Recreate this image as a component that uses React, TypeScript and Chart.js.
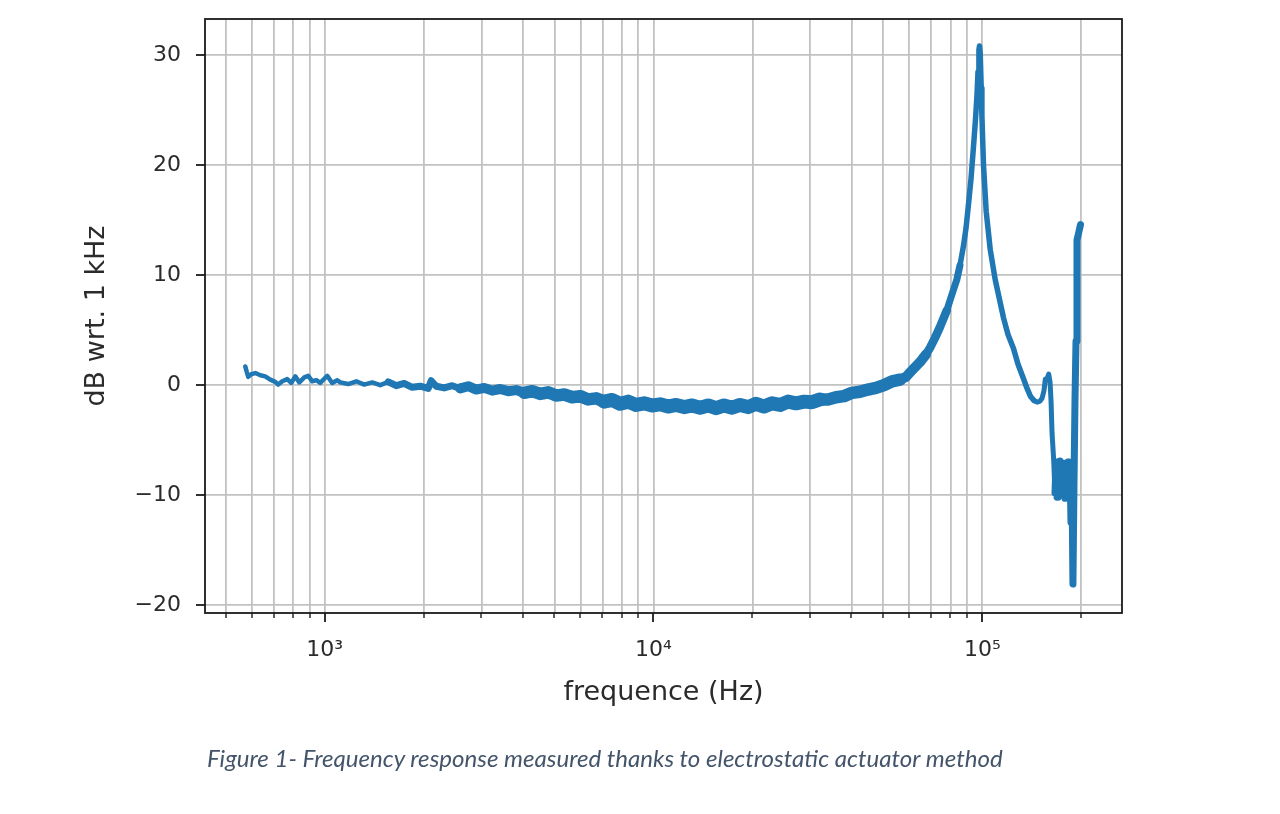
import React, { useEffect, useRef } from "react";
import { Chart, registerables } from "chart.js";

Chart.register(...registerables);

// ---- data ----
const freqHz: number[] = [
  574, 580, 586, 599, 616, 638, 660, 684, 708, 723, 744, 770, 792, 815, 838, 868, 892, 918, 944, 970,
  1019, 1055, 1093, 1116, 1180, 1249, 1320, 1396, 1477, 1562, 1652, 1747, 1848, 1954, 2066, 2110, 2185,
  2311, 2444, 2585, 2734, 2892, 3058, 3234, 3420, 3617, 3825, 4046, 4279, 4525, 4786, 5062, 5353, 5662,
  5988, 6333, 6697, 7084, 7491, 7923, 8379, 8861, 9370, 9909, 10481, 11085, 11722, 12398, 13110, 13867,
  14665, 15508, 16401, 17345, 18343, 19398, 20520, 21700, 22950, 24270, 25660, 27140, 28710, 30360,
  32110, 33960, 35910, 37980, 40180, 42490, 44930, 47520, 50250, 53140, 56210, 58620, 61580, 64660,
  67440, 69340, 71810, 74370, 77990, 80330, 83650, 85540, 87680, 89230, 90810, 92410, 94040, 95350,
  96300, 97030, 97650, 98060, 98540, 99240, 99720, 100830, 102760, 105680, 109440, 116050, 119700,
  124480, 128400, 133520, 136800, 139980, 143600, 146690, 149800, 151910, 154000, 155450, 157300,
  159200, 160660, 161780, 162930, 164820, 166340, 167490, 168700, 169870, 171050, 172280, 173480,
  174690, 175930, 177150, 178420, 179660, 180900, 182200, 183470, 184780, 186070, 187360, 188600,
  190000, 191300, 192700, 194000, 196100, 197500, 198900,
];

const gainDb: number[] = [
  1.7, 1.2, 0.75, 1.0, 1.1, 0.9, 0.8, 0.5, 0.3, 0.05, 0.35, 0.55, 0.2, 0.8, 0.25, 0.7, 0.85, 0.35, 0.45, 0.2,
  0.85, 0.2, 0.45, 0.25, 0.1, 0.35, 0.05, 0.25, 0.0, 0.3, -0.05, 0.15, -0.2, -0.1, -0.3, 0.4, -0.1,
  -0.25, -0.05, -0.3, -0.1, -0.4, -0.25, -0.5, -0.35, -0.55, -0.45, -0.7, -0.55, -0.8, -0.65, -0.95, -0.85, -1.1,
  -1.0, -1.3, -1.2, -1.5, -1.35, -1.7, -1.5, -1.8, -1.65, -1.85, -1.75, -1.95, -1.8, -2.0, -1.85, -2.05,
  -1.85, -2.1, -1.85, -2.05, -1.8, -2.0, -1.7, -1.95, -1.65, -1.8, -1.5, -1.65, -1.5, -1.55,
  -1.3, -1.3, -1.1, -1.0, -0.7, -0.6, -0.4, -0.25, 0.0, 0.35, 0.5, 0.75, 1.45, 2.1,
  2.8, 3.4, 4.3, 5.3, 6.8, 8.0, 9.6, 10.9, 12.7, 14.3, 16.5, 18.8, 21.75, 24.2,
  26.3, 28.5, 30.5, 30.85, 30.2, 27.0, 24.5, 20.0, 15.8, 12.35, 9.6, 6.1, 4.6,
  3.3, 1.9, 0.55, -0.3, -1.0, -1.4, -1.55, -1.45, -1.2, -0.5, 0.55, 0.6,
  1.0, 0.3, -1.4, -4.35, -6.8, -9.8, -7.0, -10.2, -7.4, -9.5, -6.9, -10.0,
  -7.3, -9.9, -7.1, -10.3, -7.5, -9.6, -7.0, -10.1, -7.6, -12.5, -9.0, -18.1,
  -9.0, -1.5, 4.0, 13.2, 13.8, 14.2, 14.6,
];

const xGridTicks: number[] = [
  500, 600, 700, 800, 900, 1000, 2000, 3000, 4000, 5000, 6000, 7000, 8000, 9000,
  10000, 20000, 30000, 40000, 50000, 60000, 70000, 80000, 90000, 100000, 200000,
];
const xMajorTicks: number[] = [1000, 10000, 100000];
const xMajorLabels: string[] = ["10³", "10⁴", "10⁵"];
const yTicks: number[] = [-20, -10, 0, 10, 20, 30];
const yTickLabels: string[] = ["−20", "−10", "0", "10", "20", "30"];

const xMin = 433;
const xMax = 265900;
const yMin = -20.73;
const yMax = 33.31;

const xTitle = "frequence (Hz)";
const yTitle = "dB wrt. 1 kHz";
const caption = "Figure 1- Frequency response measured thanks to electrostatic actuator method";

// ---- styles ----
const LINE_COLOR = "#1f77b4";
const GRID_COLOR = "#c2c2c2";
const TEXT_COLOR = "#2b2b2b";
const FONT = "'DejaVu Sans', sans-serif";

// stroke thickness of the noisy measurement band, by frequency
const bandWidth = (f: number): number => {
  if (f < 1500) return 4.5;
  if (f < 2500) return 7;
  if (f < 4000) return 10;
  if (f < 7000) return 12.5;
  if (f < 32000) return 14;
  if (f < 55000) return 12.5;
  if (f < 65000) return 10;
  if (f < 75000) return 8.5;
  if (f < 85000) return 7;
  if (f < 140000) return 5.5;
  if (f < 165000) return 5;
  return 7;
};

const frameAndTicks = {
  id: "frameAndTicks",
  afterDraw(chart: any) {
    const { ctx, chartArea: a, scales } = chart;
    ctx.save();
    ctx.strokeStyle = "#1a1a1a";
    for (const v of xGridTicks) {
      const px = Math.round(scales.x.getPixelForValue(v));
      const major = xMajorTicks.includes(v);
      ctx.lineWidth = major ? 1.8 : 1.4;
      ctx.beginPath();
      ctx.moveTo(px, a.bottom);
      ctx.lineTo(px, a.bottom + (major ? 9 : 5));
      ctx.stroke();
    }
    ctx.lineWidth = 1.8;
    for (const v of yTicks) {
      const py = Math.round(scales.y.getPixelForValue(v));
      ctx.beginPath();
      ctx.moveTo(a.left, py);
      ctx.lineTo(a.left - 9, py);
      ctx.stroke();
    }
    ctx.lineWidth = 1.8;
    ctx.strokeRect(a.left, a.top, a.right - a.left, a.bottom - a.top);
    ctx.restore();
  },
};

export default function App() {
  const canvasRef = useRef<HTMLCanvasElement | null>(null);
  const captionRef = useRef<HTMLDivElement | null>(null);

  useEffect(() => {
    const el = captionRef.current;
    if (el) {
      const w = el.getBoundingClientRect().width;
      if (w > 0) el.style.fontSize = (22 * 796) / w + "px";
    }
    if (!canvasRef.current) return;
    const points = freqHz.map((f, i) => ({ x: f, y: gainDb[i] }));
    const chart = new Chart(canvasRef.current, {
      type: "line",
      data: {
        datasets: [
          {
            data: points,
            borderColor: LINE_COLOR,
            backgroundColor: LINE_COLOR,
            borderWidth: 4.5,
            pointRadius: 0,
            tension: 0,
            fill: false,
            borderCapStyle: "round",
            borderJoinStyle: "round",
            segment: {
              borderWidth: (c: any) => bandWidth(c.p0.parsed.x),
            },
          } as any,
        ],
      },
      plugins: [frameAndTicks],
      options: {
        animation: false,
        responsive: false,
        devicePixelRatio: 1,
        layout: { padding: { left: 0, right: 158, top: 19, bottom: 101 } },
        plugins: { legend: { display: false }, tooltip: { enabled: false } },
        scales: {
          x: {
            type: "logarithmic",
            position: "bottom",
            min: xMin,
            max: xMax,
            bounds: "data",
            afterBuildTicks: (s: any) => {
              s.ticks = xGridTicks.map((v) => ({ value: v, major: xMajorTicks.includes(v) }));
            },
            afterFit: (s: any) => {
              s.height = 100;
              s.paddingLeft = 0;
              s.paddingRight = 0;
            },
            grid: { color: GRID_COLOR, lineWidth: 1.8, drawTicks: false },
            border: { display: false },
            ticks: {
              autoSkip: false,
              maxRotation: 0,
              minRotation: 0,
              padding: 24,
              color: TEXT_COLOR,
              font: { family: FONT, size: 22 },
              callback: (value: any) => {
                const i = xMajorTicks.indexOf(Number(value));
                return i >= 0 ? xMajorLabels[i] : "";
              },
            },
            title: {
              display: true,
              text: xTitle,
              color: TEXT_COLOR,
              font: { family: FONT, size: 27 },
              padding: { top: 0, bottom: 4 },
            },
          },
          y: {
            type: "linear",
            position: "left",
            min: yMin,
            max: yMax,
            bounds: "data",
            afterBuildTicks: (s: any) => {
              s.ticks = yTicks.map((v) => ({ value: v }));
            },
            afterFit: (s: any) => {
              s.width = 205;
              s.paddingTop = 0;
              s.paddingBottom = 0;
            },
            grid: { color: GRID_COLOR, lineWidth: 1.8, drawTicks: false },
            border: { display: false },
            ticks: {
              padding: 24,
              color: TEXT_COLOR,
              font: { family: FONT, size: 22 },
              callback: (value: any) => {
                const i = yTicks.indexOf(Number(value));
                return i >= 0 ? yTickLabels[i] : "";
              },
            },
            title: {
              display: true,
              text: yTitle,
              color: TEXT_COLOR,
              font: { family: FONT, size: 27 },
              padding: { top: 81, bottom: 0 },
            },
          },
        },
      },
    });
    return () => chart.destroy();
  }, []);

  return (
    <div style={{ position: "absolute", left: 0, top: 0, width: 1280, height: 814, background: "#fff" }}>
      <canvas ref={canvasRef} width={1280} height={814} style={{ width: 1280, height: 814, display: "block" }} />
      <div
        ref={captionRef}
        style={{
          position: "absolute",
          left: 207,
          top: 758,
          transform: "translateY(-50%)",
          fontFamily: "Lato, 'Open Sans', sans-serif",
          fontStyle: "italic",
          fontSize: 22,
          lineHeight: 1,
          color: "#44546a",
          whiteSpace: "nowrap",
        }}
      >
        {caption}
      </div>
    </div>
  );
}
